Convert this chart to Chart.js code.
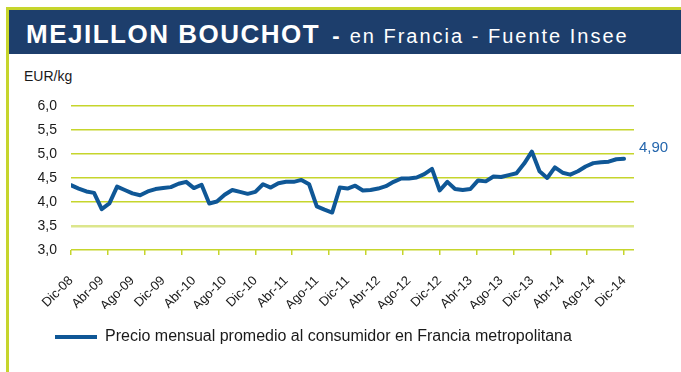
<!DOCTYPE html>
<html>
<head>
<meta charset="utf-8">
<script src="https://cdn.jsdelivr.net/npm/chart.js"></script>
<style>
  body { margin: 0; width: 681px; height: 372px; overflow: hidden; background: #fff;
         font-family: Arial, "Liberation Sans", sans-serif; position: relative; }
  .frame { position: absolute; left: 6px; top: 7px; width: 672px; height: 362px;
           border-left: 3px solid #c6d52c; border-top: 3px solid #c6d52c; }
  .title { position: absolute; left: 9px; top: 10px; width: 672px; height: 44px;
           background: #1d3e6c; color: #fff; white-space: nowrap; line-height: 48px; }
  .title .main { font-weight: bold; font-size: 26px; letter-spacing: 1.5px; margin-left: 17px; }
  .title .dash { font-weight: bold; font-size: 22px; margin: 0 4px 0 6px; }
  .title .sub { font-size: 20px; letter-spacing: 2px; }
  .unit { position: absolute; left: 24px; top: 68px; font-size: 14px; color: #1a1a1a; }
  .chart-box { position: absolute; left: 9px; top: 55px; width: 672px; height: 317px; }
</style>
</head>
<body>
<div class="frame"></div>
<div class="title"><span class="main">MEJILLON BOUCHOT</span><span class="dash"> - </span><span class="sub">en Francia - Fuente Insee</span></div>
<div class="unit">EUR/kg</div>
<div class="chart-box"><canvas id="precioChart"></canvas></div>

<script>
// months Dic-08 .. Dic-14
const monthNames = ["Ene", "Feb", "Mar", "Abr", "May", "Jun", "Jul", "Ago", "Sep", "Oct", "Nov", "Dic"];
const months = [];
for (let k = 11; k <= 83; k++) {
  months.push(monthNames[k % 12] + "-" + String(8 + Math.floor(k / 12)).padStart(2, "0"));
}

// precio mensual (EUR/kg)
const precios = [
  4.35, 4.28, 4.22, 4.19, 3.85, 3.97, 4.32, 4.25, 4.18, 4.14, 4.22, 4.27,
  4.29, 4.31, 4.38, 4.42, 4.29, 4.36, 3.97, 4.01, 4.15, 4.25, 4.21, 4.17,
  4.21, 4.37, 4.30, 4.39, 4.42, 4.42, 4.46, 4.37, 3.91, 3.84, 3.78, 4.30,
  4.28, 4.34, 4.24, 4.25, 4.28, 4.33, 4.42, 4.49, 4.49, 4.51, 4.58, 4.69,
  4.24, 4.42, 4.27, 4.25, 4.27, 4.45, 4.43, 4.53, 4.52, 4.56, 4.60, 4.80,
  5.05, 4.64, 4.50, 4.72, 4.61, 4.57, 4.64, 4.74, 4.81, 4.83, 4.84, 4.89,
  4.90
];

const labelIndex = [0, 4, 8, 12, 16, 20, 24, 28, 32, 36, 40, 44, 48, 52, 56, 60, 64, 68, 72];
const tickMarks = [0, 4.8, 9.6, 14.4, 19.2, 24, 28.8, 33.6, 38.4, 43.2, 48, 52.8, 57.6, 62.4, 67.2, 72];
const yTicks = [3, 3.5, 4, 4.5, 5, 5.5, 6];
const xMax = 73.3;

const lineColor = "#0f5796";
const gridColor = "#c6d52c";
const fontFamily = "Arial, 'Liberation Sans', sans-serif";

// "4,90" next to the last point
const lastValueLabel = {
  id: "lastValueLabel",
  afterDatasetsDraw(chart) {
    const pts = chart.getDatasetMeta(0).data;
    const pt = pts[pts.length - 1];
    const ctx = chart.ctx;
    ctx.save();
    ctx.font = "15px " + fontFamily;
    ctx.fillStyle = "#2466ad";
    ctx.textBaseline = "middle";
    ctx.fillText(precios[precios.length - 1].toFixed(2).replace(".", ","), pt.x + 15, pt.y - 11);
    ctx.restore();
  }
};

new Chart(document.getElementById("precioChart"), {
  type: "line",
  data: {
    datasets: [{
      label: "Precio mensual promedio al consumidor en Francia metropolitana",
      data: precios.map((v, i) => ({ x: i, y: v })),
      xAxisID: "x",
      borderColor: lineColor,
      backgroundColor: lineColor,
      borderWidth: 4,
      borderCapStyle: "round",
      borderJoinStyle: "round",
      pointRadius: 0,
      tension: 0
    }]
  },
  options: {
    responsive: true,
    maintainAspectRatio: false,
    animation: false,
    layout: { padding: { top: 51, right: 47, bottom: 17, left: 26 } },
    plugins: {
      tooltip: { enabled: false },
      legend: {
        position: "bottom",
        align: "start",
        labels: {
          usePointStyle: true,
          pointStyle: "line",
          pointStyleWidth: 42,
          color: "#1a1a1a",
          font: { family: fontFamily, size: 16 },
          padding: 20
        }
      }
    },
    scales: {
      x: {
        type: "linear",
        position: "bottom",
        weight: 1,
        min: 0,
        max: xMax,
        grid: { display: false },
        border: { display: false },
        afterBuildTicks: axis => { axis.ticks = labelIndex.map(v => ({ value: v })); },
        afterFit: axis => { axis.height = 54; },
        ticks: {
          autoSkip: false,
          minRotation: 45,
          maxRotation: 45,
          padding: 10,
          color: "#1a1a1a",
          font: { family: fontFamily, size: 13 },
          callback: v => months[v]
        }
      },
      marks: {
        type: "linear",
        position: "bottom",
        weight: 0,
        min: 0,
        max: xMax,
        grid: { drawOnChartArea: false, drawTicks: true, tickLength: 5, color: gridColor, lineWidth: 1.5 },
        border: { display: false },
        afterBuildTicks: axis => { axis.ticks = tickMarks.map(v => ({ value: v })); },
        ticks: { display: false }
      },
      y: {
        min: 3,
        max: 6,
        border: { display: false },
        grid: {
          drawTicks: false,
          color: c => (c.tick && c.tick.value === 3.5 ? "#dce68c" : gridColor),
          lineWidth: c => (c.tick && c.tick.value === 3.5 ? 2.5 : 1.5)
        },
        afterBuildTicks: axis => { axis.ticks = yTicks.map(v => ({ value: v })); },
        afterFit: axis => { axis.width = 36; },
        ticks: {
          padding: 14,
          color: "#1a1a1a",
          font: { family: fontFamily, size: 14 },
          callback: v => v.toFixed(1).replace(".", ",")
        }
      }
    }
  },
  plugins: [lastValueLabel]
});
</script>
</body>
</html>
